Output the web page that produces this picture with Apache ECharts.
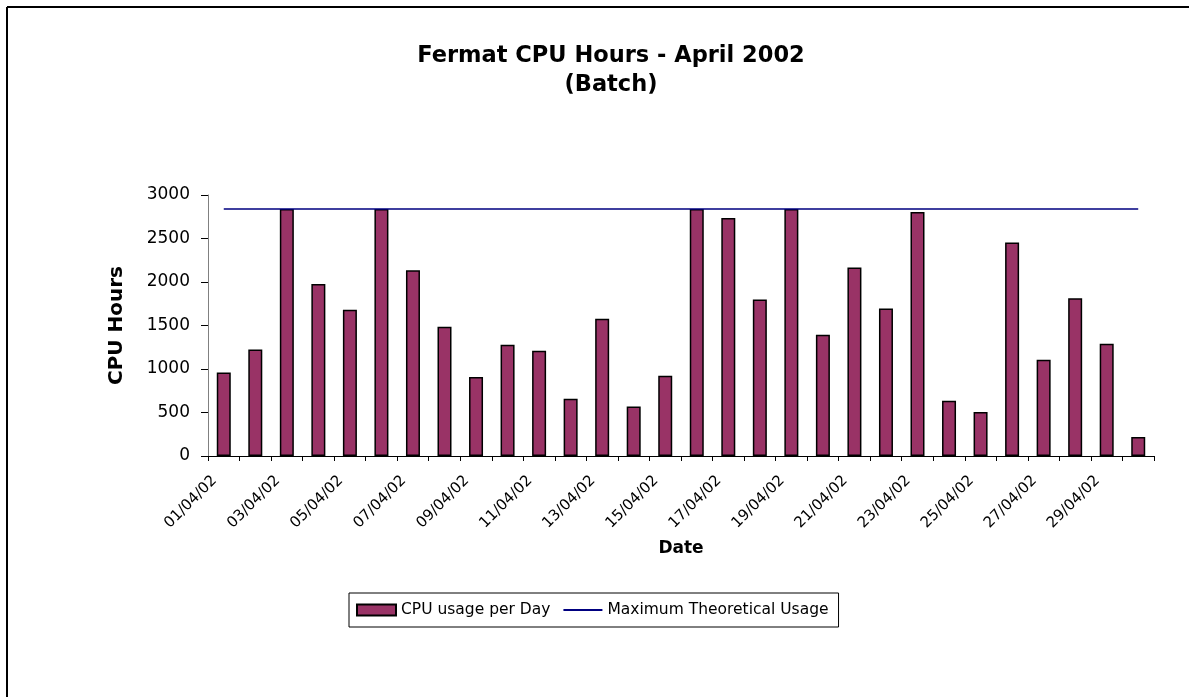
<!DOCTYPE html>
<html>
<head>
<meta charset="utf-8">
<title>Fermat CPU Hours - April 2002</title>
<script src="https://cdn.jsdelivr.net/npm/echarts@6/dist/echarts.min.js"></script>
<style>
html,body{margin:0;padding:0;background:#fff;}
#main{width:1189px;height:697px;}
</style>
</head>
<body>
<div id="main"></div>
<script>
/* 数据 */
var dates = ['01/04/02','02/04/02','03/04/02','04/04/02','05/04/02','06/04/02','07/04/02','08/04/02','09/04/02','10/04/02',
             '11/04/02','12/04/02','13/04/02','14/04/02','15/04/02','16/04/02','17/04/02','18/04/02','19/04/02','20/04/02',
             '21/04/02','22/04/02','23/04/02','24/04/02','25/04/02','26/04/02','27/04/02','28/04/02','29/04/02','30/04/02'];
var cpuPerDay = [960,1224,2840,1978,1680,2840,2135,1485,907,1278,
                 1209,658,1577,570,922,2840,2736,1798,2840,1393,
                 2166,1695,2805,635,505,2453,1106,1814,1290,218];
var maxUsage = [2840,2840,2840,2840,2840,2840,2840,2840,2840,2840,
                2840,2840,2840,2840,2840,2840,2840,2840,2840,2840,
                2840,2840,2840,2840,2840,2840,2840,2840,2840,2840];
var yTicks = [0,500,1000,1500,2000,2500,3000];

var font = 'DejaVu Sans';
var myChart = echarts.init(document.getElementById('main'));

option = {
    backgroundColor:'#fff',
    animation:false,
    textStyle:{fontFamily:font, color:'#000'},
    // 外框（只有上边和左边）
    graphic:[
        {type:'line', shape:{x1:7,y1:7,x2:1189,y2:7}, style:{stroke:'#000',lineWidth:2}},
        {type:'line', shape:{x1:7,y1:7,x2:7,y2:697}, style:{stroke:'#000',lineWidth:2}}
    ],
    title:{
        text:'Fermat CPU Hours - April 2002\n(Batch)',
        left:611, top:42, padding:0,
        textAlign:'center',
        textStyle:{fontFamily:font, fontSize:22.5, fontWeight:'bold', color:'#000', lineHeight:29}
    },
    legend:{
        left:349, top:593,
        orient:'horizontal',
        borderColor:'#000', borderWidth:1,
        padding:[9,10,9,7],
        itemGap:12,
        itemWidth:39, itemHeight:11,
        textStyle:{fontFamily:font, fontSize:15.5, color:'#000'},
        data:[
            {name:'CPU usage per Day', icon:'rect'},
            {name:'Maximum Theoretical Usage', itemStyle:{opacity:0}}
        ]
    },
    grid:{left:208, right:35, top:195, bottom:241},
    xAxis:{
        type:'category',
        data:dates,
        name:'Date',
        nameLocation:'middle',
        nameGap:84,
        nameTextStyle:{fontFamily:font, fontSize:17, fontWeight:'bold', color:'#000'},
        axisLine:{lineStyle:{color:'#000', width:1}},
        axisTick:{show:true, interval:0, length:5, lineStyle:{color:'#000'}},
        axisLabel:{interval:1, rotate:45, margin:13, padding:[0,13,0,0],
                   fontFamily:font, fontSize:15, color:'#000'}
    },
    yAxis:{
        type:'value',
        min:yTicks[0], max:yTicks[yTicks.length-1], interval:yTicks[1]-yTicks[0],
        name:'CPU Hours',
        nameLocation:'middle',
        nameGap:81,
        nameTextStyle:{fontFamily:font, fontSize:20, fontWeight:'bold', color:'#000'},
        splitLine:{show:false},
        axisLine:{show:true, lineStyle:{color:'#808080', width:1}},
        axisTick:{show:true, length:7, lineStyle:{color:'#000'}},
        axisLabel:{margin:18, fontFamily:font, fontSize:17, color:'#000',
                   formatter:function(v){return String(v);}}
    },
    series:[
        {
            name:'CPU usage per Day',
            type:'bar',
            data:cpuPerDay,
            barWidth:14,
            itemStyle:{color:'#993366', borderColor:'#000', borderWidth:1.5}
        },
        {
            name:'Maximum Theoretical Usage',
            type:'line',
            data:maxUsage,
            symbol:'none',
            z:3,
            lineStyle:{color:'#000080', width:1.5},
            itemStyle:{color:'#000080'}
        }
    ]
};
myChart.setOption(option);
</script>
</body>
</html>
